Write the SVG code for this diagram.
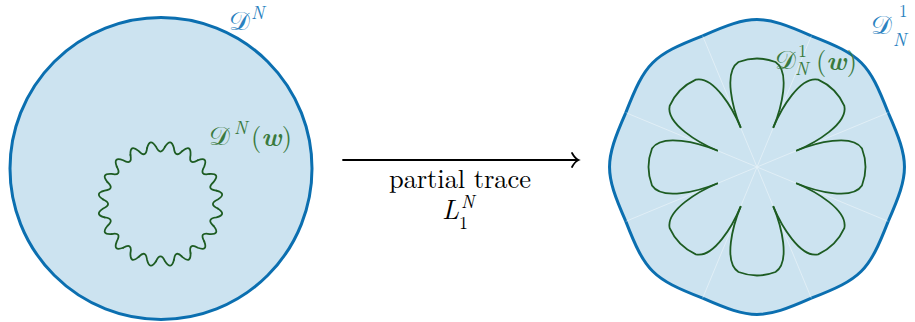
<svg xmlns="http://www.w3.org/2000/svg" xmlns:xlink="http://www.w3.org/1999/xlink" width="915" height="322" viewBox="0 0 915 322">
<style>
.disk{fill:#cce3f0;stroke:#0b6fb0;stroke-width:3}
.curve{fill:none;stroke:#1d5c22;stroke-width:1.8;stroke-linecap:round;stroke-linejoin:round}
.ray{stroke:#ffffff;stroke-width:0.8;opacity:0.5}
.f{font-family:'Latin Modern Roman','CMU Serif','Liberation Serif','TeX Gyre Termes','Nimbus Roman','FreeSerif','DejaVu Serif','Noto Serif',serif}
.t{font-size:26.5px}
.s{font-size:18px}
.scr{font-size:26px}
.mi{font-style:italic}
.bi{font-style:italic;font-weight:bold}
.blue{fill:#2a82c0}
.green{fill:#3a7a3e}
.arrow{fill:none;stroke:#000;stroke-width:1.8;stroke-linecap:round}
</style>
<defs>
<path id="wig" class="curve" stroke-width="2.1" d="M0,-57.5 Q5.30,-67.29 8.99,-56.79 Q11.09,-46.19 17.77,-54.69"/>
<path id="petal" class="curve" d="M-16.5,-39.8 C-24,-58 -34,-95 -18.5,-105 Q0,-112 18.5,-105 C34,-95 24,-58 16.5,-39.8"/>
</defs>

<g id="disk-left">
<circle class="disk" cx="161" cy="168.5" r="151"/>
<text class="f scr blue" x="229" y="30">𝒟</text><text class="f s mi blue" x="251" y="19">N</text>
</g>

<g id="ring-left">
<g transform="translate(160.5,204)">
<use xlink:href="#wig" transform="rotate(4.5)"/>
<use xlink:href="#wig" transform="rotate(22.5)"/>
<use xlink:href="#wig" transform="rotate(40.5)"/>
<use xlink:href="#wig" transform="rotate(58.5)"/>
<use xlink:href="#wig" transform="rotate(76.5)"/>
<use xlink:href="#wig" transform="rotate(94.5)"/>
<use xlink:href="#wig" transform="rotate(112.5)"/>
<use xlink:href="#wig" transform="rotate(130.5)"/>
<use xlink:href="#wig" transform="rotate(148.5)"/>
<use xlink:href="#wig" transform="rotate(166.5)"/>
<use xlink:href="#wig" transform="rotate(184.5)"/>
<use xlink:href="#wig" transform="rotate(202.5)"/>
<use xlink:href="#wig" transform="rotate(220.5)"/>
<use xlink:href="#wig" transform="rotate(238.5)"/>
<use xlink:href="#wig" transform="rotate(256.5)"/>
<use xlink:href="#wig" transform="rotate(274.5)"/>
<use xlink:href="#wig" transform="rotate(292.5)"/>
<use xlink:href="#wig" transform="rotate(310.5)"/>
<use xlink:href="#wig" transform="rotate(328.5)"/>
<use xlink:href="#wig" transform="rotate(346.5)"/>
</g>
<text class="f scr green" x="209" y="145">𝒟</text><text class="f s mi green" x="234" y="134">N</text><text class="f t green" x="251" y="146">(<tspan class="bi">w</tspan>)</text>
</g>

<g id="disk-right">
<path class="disk" transform="translate(757,167)" d="M-54.34,-131.19 C-5,-152.9 5,-152.9 54.34,-131.19 C104.58,-111.65 111.65,-104.58 131.19,-54.34 C152.9,-5 152.9,5 131.19,54.34 C111.65,104.58 104.58,111.65 54.34,131.19 C5,152.9 -5,152.9 -54.34,131.19 C-104.58,111.65 -111.65,104.58 -131.19,54.34 C-152.9,5 -152.9,-5 -131.19,-54.34 C-111.65,-104.58 -104.58,-111.65 -54.34,-131.19 Z"/>
<g class="ray" transform="translate(757,167)">
<line x1="0" y1="0" x2="54.34" y2="-131.19"/>
<line x1="0" y1="0" x2="131.19" y2="-54.34"/>
<line x1="0" y1="0" x2="131.19" y2="54.34"/>
<line x1="0" y1="0" x2="54.34" y2="131.19"/>
<line x1="0" y1="0" x2="-54.34" y2="131.19"/>
<line x1="0" y1="0" x2="-131.19" y2="54.34"/>
<line x1="0" y1="0" x2="-131.19" y2="-54.34"/>
<line x1="0" y1="0" x2="-54.34" y2="-131.19"/>
</g>
<text class="f scr blue" x="871" y="34">𝒟</text><text class="f blue" font-size="17" x="899" y="17">1</text><text class="f s mi blue" x="893" y="46">N</text>
</g>

<g id="flower-right">
<g transform="translate(757,167)">
<use xlink:href="#petal"/>
<use xlink:href="#petal" transform="rotate(45)"/>
<use xlink:href="#petal" transform="rotate(90)"/>
<use xlink:href="#petal" transform="rotate(135)"/>
<use xlink:href="#petal" transform="rotate(180)"/>
<use xlink:href="#petal" transform="rotate(225)"/>
<use xlink:href="#petal" transform="rotate(270)"/>
<use xlink:href="#petal" transform="rotate(315)"/>
</g>
<text class="f scr green" x="775" y="69">𝒟</text><text class="f s green" x="798" y="57">1</text><text class="f s mi green" x="795" y="75">N</text><text class="f t green" x="816" y="70">(<tspan class="bi">w</tspan>)</text>
</g>

<g id="connectors">
<line class="arrow" x1="343" y1="160" x2="577.5" y2="160"/>
<path class="arrow" d="M572,153 Q575,158.5 578.5,160 Q575,161.5 572,167"/>
<text class="f t" x="460" y="188" text-anchor="middle" textLength="142" lengthAdjust="spacing">partial trace</text>
<text class="f mi" font-size="27" x="442" y="219">L</text><text class="f s mi" x="461" y="208">N</text><text class="f s" x="459" y="229">1</text>
</g>
</svg>
